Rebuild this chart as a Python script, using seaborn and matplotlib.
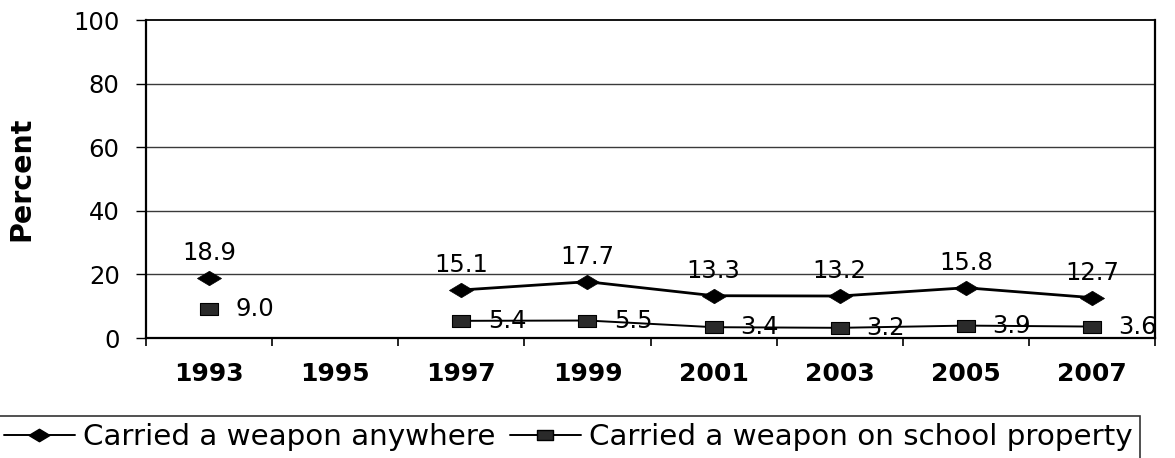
import matplotlib
matplotlib.use("Agg")
import matplotlib.pyplot as plt
import seaborn as sns
import pandas as pd
import numpy as np
from matplotlib.lines import Line2D
from matplotlib.path import Path

years = ["1993", "1995", "1997", "1999", "2001", "2003", "2005", "2007"]
anywhere = [18.9, np.nan, 15.1, 17.7, 13.3, 13.2, 15.8, 12.7]
school = [9.0, np.nan, 5.4, 5.5, 3.4, 3.2, 3.9, 3.6]
series_names = ["Carried a weapon anywhere", "Carried a weapon on school property"]

sns.set_theme(style="white")
plt.rcParams['font.family'] = ['DejaVu Sans']
plt.rcParams['text.color'] = 'black'
plt.rcParams['axes.labelcolor'] = 'black'
plt.rcParams['xtick.color'] = 'black'
plt.rcParams['ytick.color'] = 'black'

# flattened markers (the reference is horizontally stretched)
diamond = Path([(-1, 0), (0, 0.6), (1, 0), (0, -0.6), (-1, 0)],
               [Path.MOVETO, Path.LINETO, Path.LINETO, Path.LINETO, Path.CLOSEPOLY])
rect = Path([(-1, -0.65), (1, -0.65), (1, 0.65), (-1, 0.65), (-1, -0.65)],
            [Path.MOVETO, Path.LINETO, Path.LINETO, Path.LINETO, Path.CLOSEPOLY])

fig = plt.figure(figsize=(11.75, 4.58), dpi=100)
ax = fig.add_axes([0.1243, 0.262, 0.8587, 0.6943])

pos = np.arange(len(years))
df = pd.DataFrame({"pos": pos, "year": years, "anywhere": anywhere, "school": school})
seg = df[df["pos"] >= 2]  # connected part after the 1995 gap

sns.lineplot(data=seg, x="pos", y="anywhere", ax=ax, color="black", lw=2.0)
sns.lineplot(data=seg, x="pos", y="school", ax=ax, color="black", lw=1.4)
d1 = df.dropna(subset=["anywhere"])
sns.scatterplot(data=d1, x="pos", y="anywhere", ax=ax, marker=diamond, s=300,
                color="black", edgecolor="black", linewidth=0.5, zorder=5)
sns.scatterplot(data=d1, x="pos", y="school", ax=ax, marker=rect, s=170,
                color="#2a2a2a", edgecolor="black", linewidth=0.8, zorder=5)

for p, a, s in zip(pos, anywhere, school):
    if not np.isnan(a):
        ax.annotate(f"{a:.1f}", (p, a), xytext=(0, 18), textcoords="offset points",
                    ha="center", va="center", fontsize=17.5, color="black")
    if not np.isnan(s):
        ax.annotate(f"{s:.1f}", (p, s), xytext=(19, 0), textcoords="offset points",
                    ha="left", va="center", fontsize=17.5, color="black")

ax.set_xlim(-0.5, len(years) - 0.5)
ax.set_ylim(0, 100)
ax.set_yticks([0, 20, 40, 60, 80, 100])
ax.set_yticklabels(["0", "20", "40", "60", "80", "100"], fontsize=17.5)
ax.set_xticks(pos)
ax.set_xticklabels(years, fontsize=18, fontweight="bold")
ax.tick_params(axis="x", length=0, pad=17)
ax.set_xticks(np.arange(-0.5, len(years), 1), minor=True)
ax.tick_params(axis="x", which="minor", length=6, width=1.2, color="black",
               direction="out", bottom=True)
ax.tick_params(axis="y", length=7, width=1, color="black", direction="out",
               left=True, pad=12)
for y in [20, 40, 60, 80]:
    ax.axhline(y, color="#3a3a3a", lw=1, zorder=0)
for sp in ["left", "bottom", "right"]:
    ax.spines[sp].set_color("black")
    ax.spines[sp].set_linewidth(1.6)
ax.spines["top"].set_color("black")
ax.spines["top"].set_linewidth(1.3)
ax.set_xlabel("")
ax.set_ylabel("Percent", fontsize=20.5, fontweight="bold")
ax.yaxis.set_label_coords(-0.11, 0.5)

handles = [Line2D([], [], color="black", marker=diamond, markersize=15, lw=1.4),
           Line2D([], [], color="black", marker=rect, markersize=12,
                  markerfacecolor="#2a2a2a", lw=1.4)]
leg = fig.legend(handles, series_names, loc="upper left",
                 bbox_to_anchor=(-0.003, 0.0917), borderaxespad=0,
                 ncol=2, fontsize=21.2, frameon=True, fancybox=False,
                 handlelength=2.4, handletextpad=0.28, columnspacing=0.5,
                 borderpad=0.25)
leg.get_frame().set_edgecolor("black")
leg.get_frame().set_linewidth(1.2)

fig.savefig("out.png", dpi=100)
